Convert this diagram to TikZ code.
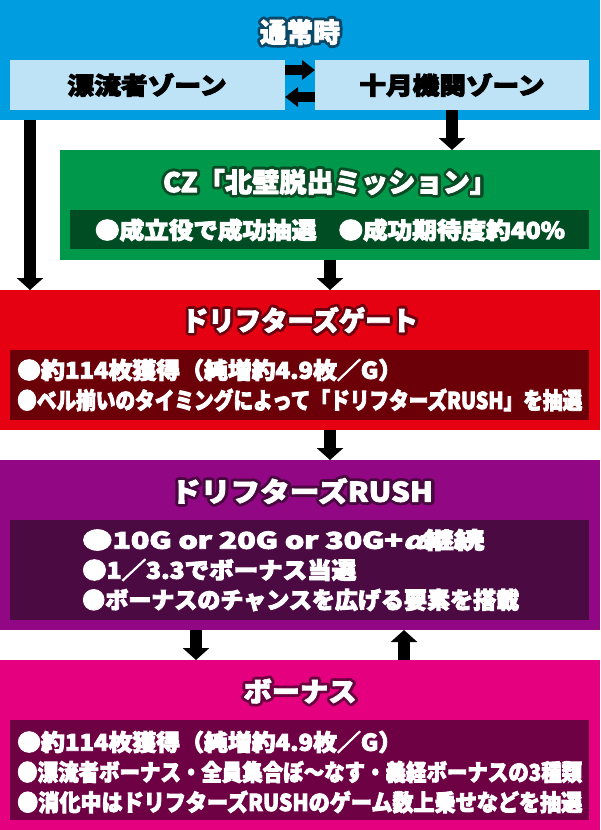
\documentclass[tikz,border=0pt]{standalone}
\usepackage{fontspec}
\setmainfont{Noto Sans CJK JP}
\usepackage{graphicx}
\usetikzlibrary{arrows.meta}

\definecolor{blueA}{HTML}{009DE1}
\definecolor{blueL}{HTML}{BEE3F6}
\definecolor{greenA}{HTML}{00984A}
\definecolor{greenD}{HTML}{004D23}
\definecolor{redA}{HTML}{E50012}
\definecolor{redD}{HTML}{6C0009}
\definecolor{purA}{HTML}{920783}
\definecolor{purD}{HTML}{4B0A42}
\definecolor{pinkA}{HTML}{E4007F}
\definecolor{pinkD}{HTML}{6E0044}

% text stretched to the measured width of the reference (#1: stroke colour as r g b)
\newcommand\fixw[3][1 1 1]{\resizebox{#2}{\height}{\special{pdf:literal direct #1 RG}\addfontfeature{FakeBold=4}#3}}
% white title with a dark outline (#1: outline colour as r g b)
\newcommand\outlined[2]{\rlap{\fontsize{27.05}{27}\selectfont\special{pdf:literal direct 1 j #1 rg #1 RG}\addfontfeature{FakeBold=24}#2}\special{pdf:literal direct 1 1 1 rg 1 1 1 RG}{\fontsize{27}{27}\selectfont\addfontfeature{FakeBold=3}#2}}
\newcommand\ttltext[3]{\resizebox{#2}{\height}{\outlined{#1}{#3}}}

\tikzset{
  panel/.style={draw=none, rectangle, inner sep=0pt, outer sep=0pt, anchor=north west},
  ttl/.style={font=\bfseries\fontsize{27}{27}\selectfont, text=white, inner sep=0pt},
  zonetxt/.style={font=\bfseries\fontsize{24}{24}\selectfont, text=black, inner sep=0pt},
  ln/.style={font=\bfseries\fontsize{23}{23}\selectfont, text=white, inner sep=0pt, anchor=west},
  lnc/.style={font=\bfseries\fontsize{23}{23}\selectfont, text=white, inner sep=0pt},
  varrow/.style={line width=12pt, draw=black, -{Triangle[width=26pt,length=12pt]}},
  harrow/.style={line width=10pt, draw=black, -{Triangle[width=19pt,length=13pt]}}
}

\begin{document}
\begin{tikzpicture}[x=1pt,y=-1pt]
\useasboundingbox[fill=white] (0,0) rectangle (600,830);

% panels
\node[panel, fill=blueA, minimum width=600pt, minimum height=120pt] (blue) at (0,0) {};
\node[panel, fill=blueL, minimum width=275pt, minimum height=50pt] (zoneL) at (10,60) {};
\node[panel, fill=blueL, minimum width=274pt, minimum height=50pt] (zoneR) at (315,60) {};
\node[panel, fill=greenA, minimum width=540pt, minimum height=110pt] (green) at (60,150) {};
\node[panel, fill=greenD, minimum width=519pt, minimum height=39pt] (greenbar) at (70,210) {};
\node[panel, fill=redA, minimum width=600pt, minimum height=140pt] (red) at (0,290) {};
\node[panel, fill=redD, minimum width=579pt, minimum height=70pt] (redbar) at (10,350) {};
\node[panel, fill=purA, minimum width=600pt, minimum height=170pt] (purple) at (0,460) {};
\node[panel, fill=purD, minimum width=579pt, minimum height=100pt] (purbar) at (10,520) {};
\node[panel, fill=pinkA, minimum width=600pt, minimum height=170pt] (pink) at (0,660) {};
\node[panel, fill=pinkD, minimum width=579pt, minimum height=100pt] (pinkbar) at (10,720) {};

% titles and texts
\node[ttl] (t1) at (300,32) {\ttltext{0.043 0.282 0.408}{80pt}{通常時}};
\node[zonetxt] (zl) at (147,85) {\fixw[0 0 0]{159pt}{漂流者ゾーン}};
\node[zonetxt] (zr) at (452,85) {\fixw[0 0 0]{185pt}{十月機関ゾーン}};
\node[ttl] (t2) at (330,182) {\ttltext{0.039 0.290 0.141}{334pt}{CZ「北壁脱出ミッション」}};
\node[lnc] (g1) at (330,230) {\fixw{470pt}{●成立役で成功抽選\hspace{0.9em}●成功期待度約40\%}};
\node[ttl] (t3) at (300,320) {\ttltext{0.416 0 0.063}{236pt}{ドリフターズゲート}};
\node[ln] (r1) at (17,370) {\fixw{385pt}{●約114枚獲得（純増約4.9枚／G）}};
\node[ln] (r2) at (17,400) {\fixw{565pt}{●ベル揃いのタイミングによって「ドリフターズRUSH」を抽選}};
\node[ttl] (t4) at (302,491) {\ttltext{0.290 0.031 0.251}{262pt}{ドリフターズRUSH}};
\node[ln] (p1) at (82,540) {\fixw{402pt}{●10G or 20G or 30G+{\addfontfeature{FakeSlant=0.25}α}継続}};
\node[ln] (p2) at (82,570) {\fixw{274pt}{●1／3.3でボーナス当選}};
\node[ln] (p3) at (82,600) {\fixw{437pt}{●ボーナスのチャンスを広げる要素を搭載}};
\node[ttl] (t5) at (300,691) {\ttltext{0.416 0 0.251}{113pt}{ボーナス}};
\node[ln] (k1) at (17,742) {\fixw{385pt}{●約114枚獲得（純増約4.9枚／G）}};
\node[ln] (k2) at (17,772) {\fixw{565pt}{●漂流者ボーナス・全員集合ぼ～なす・義経ボーナスの3種類}};
\node[ln] (k3) at (17,802) {\fixw{565pt}{●消化中はドリフターズRUSHのゲーム数上乗せなどを抽選}};

% arrow x positions
\coordinate (xa) at (30,0);
\coordinate (xc) at (196,0);
\coordinate (xd) at (404,0);

% connectors
\draw[harrow] ([yshift=15pt]zoneL.east) -- ([yshift=15pt]zoneR.west);
\draw[harrow] ([yshift=-12pt]zoneR.west) -- ([yshift=-12pt]zoneL.east);
\draw[varrow] (blue.south -| xa) -- (red.north -| xa);
\draw[varrow] (zoneR.south) -- (green.north -| zoneR.south);
\draw[varrow] (green.south) -- (red.north -| green.south);
\draw[varrow] (red.south -| green.south) -- (purple.north -| green.south);
\draw[varrow] (purple.south -| xc) -- (pink.north -| xc);
\draw[varrow] (pink.north -| xd) -- (purple.south -| xd);
\end{tikzpicture}
\end{document}
